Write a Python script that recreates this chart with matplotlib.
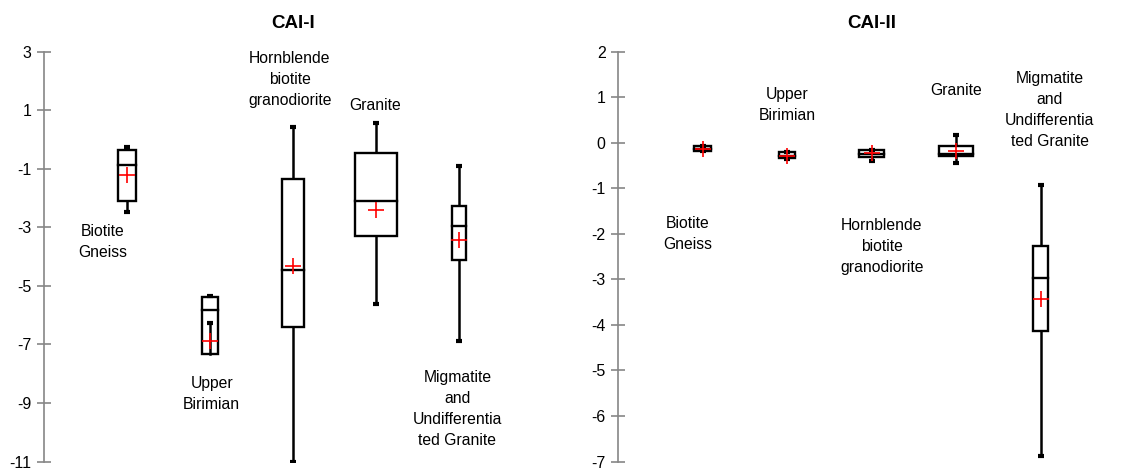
import numpy as np
import matplotlib.pyplot as plt

plt.rcParams['font.family'] = ['Liberation Sans', 'DejaVu Sans']
plt.rcParams['axes.unicode_minus'] = False

# CAI-I box statistics
cai1_low = [-2.49, -6.26, -11.0, -5.63, -6.87]
cai1_q1 = [-2.12, -7.33, -6.42, -3.31, -4.13]
cai1_med = [-0.87, -5.84, -4.47, -2.10, -2.96]
cai1_q3 = [-0.38, -5.39, -1.37, -0.47, -2.27]
cai1_high = [-0.27, -5.35, 0.41, 0.55, -0.91]
cai1_mean = [-1.21, -6.89, -4.34, -2.40, -3.43]

# CAI-II box statistics
cai2_low = [-0.19, -0.35, -0.41, -0.45, -6.88]
cai2_q1 = [-0.19, -0.34, -0.31, -0.30, -4.13]
cai2_med = [-0.13, -0.29, -0.24, -0.26, -2.97]
cai2_q3 = [-0.07, -0.21, -0.16, -0.08, -2.27]
cai2_high = [-0.07, -0.21, -0.16, 0.17, -0.94]
cai2_mean = [-0.14, -0.29, -0.23, -0.19, -3.44]

# group labels
lab_bg = 'Biotite\nGneiss'
lab_ub = 'Upper\nBirimian'
lab_hb = 'Hornblende\nbiotite\ngranodiorite'
lab_gr = 'Granite'
lab_mg = 'Migmatite\nand\nUndifferentia\nted Granite'

fig = plt.figure(figsize=(11.37, 4.71), dpi=100)
H = 471.0
W = 1137.0
ax1 = fig.add_axes([44 / W, (471 - 461.5) / H, 498 / W, 410 / H])
ax2 = fig.add_axes([618 / W, (471 - 461.5) / H, 507 / W, 410 / H])


def draw_boxes(ax, low, q1, med, q3, high, mean, widths, cross_h):
    x = np.arange(1, len(q1) + 1)
    q1 = np.array(q1); q3 = np.array(q3)
    ax.bar(x, q3 - q1, bottom=q1, width=widths, color='white',
           edgecolor='black', linewidth=1.7, zorder=2)
    for i in range(len(x)):
        w = widths[i]
        ax.plot([x[i] - w / 2, x[i] + w / 2], [med[i], med[i]], color='black', lw=1.7, zorder=3)
        ax.plot([x[i], x[i]], [q3[i], high[i]], color='black', lw=1.8, zorder=1)
        ax.plot([x[i], x[i]], [q1[i], low[i]], color='black', lw=1.8, zorder=3 if low[i] > q1[i] else 1)
        ax.plot([x[i]], [high[i]], marker='_', ms=5, mew=3, color='black', zorder=3)
        ax.plot([x[i]], [low[i]], marker='_', ms=5, mew=3, color='black', zorder=3)
    ax.plot(x, mean, linestyle='none', marker='+', ms=cross_h, mew=1.2, color='red', zorder=5)


def style(ax, lo, hi, step):
    ax.set_xlim(0, 6)
    ax.set_ylim(lo, hi)
    ax.set_yticks(np.arange(lo, hi + 0.01, step))
    for s in ['top', 'right', 'bottom']:
        ax.spines[s].set_visible(False)
    ax.spines['left'].set_color('#868686')
    ax.spines['left'].set_linewidth(1.2)
    ax.tick_params(axis='y', direction='inout', length=10, width=1.2, color='#868686',
                   labelsize=11.5, pad=4)
    ax.set_xticks([])


draw_boxes(ax1, cai1_low, cai1_q1, cai1_med, cai1_q3, cai1_high, cai1_mean,
           [0.22, 0.19, 0.27, 0.5, 0.17], 12)
style(ax1, -11, 3, 2)
ax1.set_title('CAI-I', fontsize=13.5, fontweight='bold', pad=17)

draw_boxes(ax2, cai2_low, cai2_q1, cai2_med, cai2_q3, cai2_high, cai2_mean,
           [0.21, 0.2, 0.3, 0.4, 0.17], 12)
style(ax2, -7, 2, 1)
ax2.set_title('CAI-II', fontsize=13.5, fontweight='bold', pad=17)

tk = dict(fontsize=11.3, ha='center', va='center', linespacing=1.5)
ax1.text(0.71, -3.5, lab_bg, **tk)
ax1.text(2.02, -8.7, lab_ub, **tk)
ax1.text(2.96, 2.05, lab_hb, **tk)
ax1.text(3.99, 1.15, lab_gr, **tk)
ax1.text(4.98, -9.2, lab_mg, **tk)

ax2.text(0.82, -2.0, lab_bg, **tk)
ax2.text(2.0, 0.82, lab_ub, **tk)
ax2.text(3.12, -2.27, lab_hb, **tk)
ax2.text(4.0, 1.15, lab_gr, **tk)
ax2.text(5.11, 0.72, lab_mg, clip_on=False, **tk)

fig.savefig('out.png', dpi=100)
